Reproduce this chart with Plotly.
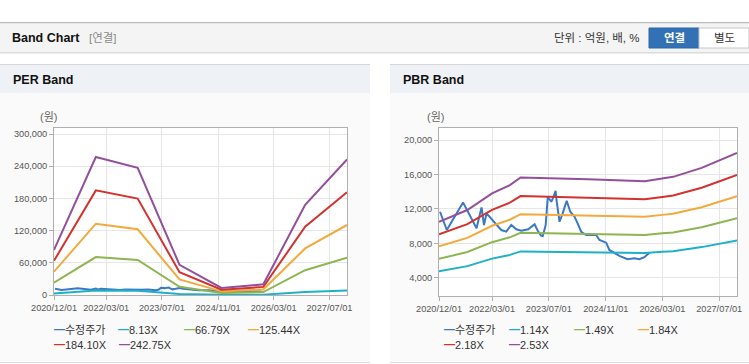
import plotly.graph_objects as go

W, H = 749, 364


def px(x):
    return x / W


def py(y):
    return 1 - y / H


# ---------------- data ----------------
x_tickvals = ["2020-12-01", "2022-03-01", "2023-07-01", "2024-11-01", "2026-03-01", "2027-07-01"]
x_ticktext = ["2020/12/01", "2022/03/01", "2023/07/01", "2024/11/01", "2026/03/01", "2027/07/01"]
x_range = ["2020-12-01", "2027-12-01"]

per_yticks = [0, 60000, 120000, 180000, 240000, 300000]
pbr_yticks = [4000, 8000, 12000, 16000, 20000]

# adjusted price (수정주가)
price_dates = [
    "2020-12-10", "2021-02-06", "2021-06-25", "2021-10-19", "2021-12-01", "2021-12-22",
    "2022-01-13", "2022-03-22", "2022-05-19", "2022-07-01", "2022-08-13", "2022-09-25",
    "2022-11-07", "2023-01-04", "2023-03-01", "2023-03-28", "2023-04-25", "2023-05-10",
    "2023-06-04", "2023-06-22", "2023-07-22", "2023-08-10", "2023-08-28", "2023-09-07",
    "2023-10-01", "2023-10-28", "2023-12-01", "2024-01-01", "2024-02-07", "2024-03-04",
    "2024-04-04", "2024-05-16", "2024-08-10", "2024-09-07", "2024-11-04", "2024-12-01",
    "2025-02-25", "2025-05-07", "2025-07-04", "2025-08-16", "2025-09-28", "2025-11-10",
]
price_vals = [
    11660, 9540, 12750, 9740, 12170, 10120,
    11480, 10500, 9540, 9350, 10120, 9620,
    9460, 9620, 10200, 9460, 8900, 8850,
    10120, 13400, 12820, 13400, 14100, 12820,
    10500, 11480, 12940, 11660, 11080, 10320,
    9340, 8960, 8960, 8380, 8070, 7220,
    6530, 6150, 6260, 6150, 6380, 6910,
]

# PER band
per_dates = ["2020-12-01", "2021-12-01", "2022-12-01", "2023-12-01",
             "2024-12-01", "2025-12-01", "2026-12-01", "2027-12-01"]
per_813 = [2813, 8610, 7935, 1878, 439, 667, 5626, 8455]
per_6679 = [23109, 70731, 65187, 15428, 3607, 5477, 46219, 69462]
per_12544 = [43402, 132841, 122429, 28977, 6774, 10286, 86804, 130458]
per_18410 = [63699, 194962, 179682, 42527, 9941, 15096, 127397, 191464]
per_24275 = [83992, 257072, 236924, 56075, 13109, 19906, 167983, 252460]

# PBR band
pbr_dates = ["2020-12-01", "2021-08-01", "2022-03-01", "2022-08-01", "2022-11-01",
             "2023-06-01", "2024-06-01", "2025-10-01", "2026-03-01", "2026-06-01",
             "2027-02-01", "2027-07-01", "2027-12-01"]
pbr_114 = [4733, 5344, 6216, 6651, 7053, 7006, 6962, 6858, 7001, 7083, 7554, 7957, 8338]
pbr_149 = [6186, 6985, 8125, 8693, 9219, 9158, 9099, 8964, 9150, 9257, 9873, 10400, 10898]
pbr_184 = [7640, 8626, 10034, 10735, 11384, 11309, 11237, 11069, 11299, 11432, 12192, 12843, 13458]
pbr_218 = [9051, 10220, 11888, 12718, 13488, 13398, 13313, 13115, 13387, 13544, 14445, 15216, 15945]
pbr_253 = [10505, 11861, 13796, 14760, 15653, 15549, 15451, 15220, 15537, 15719, 16764, 17659, 18504]

per_names = ["수정주가", "8.13X", "66.79X", "125.44X", "184.10X", "242.75X"]
pbr_names = ["수정주가", "1.14X", "1.49X", "1.84X", "2.18X", "2.53X"]
colors = ["#3b78c6", "#1eb0c6", "#8db551", "#f3a93b", "#d3322e", "#934f9b"]

FONT = "Liberation Sans, Arial, Noto Sans CJK KR, sans-serif"

# ---------------- figure ----------------
fig = go.Figure()

per_series = [(price_dates, price_vals), (per_dates, per_813), (per_dates, per_6679),
              (per_dates, per_12544), (per_dates, per_18410), (per_dates, per_24275)]
pbr_series = [(price_dates, price_vals), (pbr_dates, pbr_114), (pbr_dates, pbr_149),
              (pbr_dates, pbr_184), (pbr_dates, pbr_218), (pbr_dates, pbr_253)]

for (xs, ys), name, c in zip(per_series, per_names, colors):
    fig.add_trace(go.Scatter(x=xs, y=ys, name=name, mode="lines",
                             line=dict(color=c, width=2), xaxis="x", yaxis="y",
                             showlegend=False))
for (xs, ys), name, c in zip(pbr_series, pbr_names, colors):
    fig.add_trace(go.Scatter(x=xs, y=ys, name=name, mode="lines",
                             line=dict(color=c, width=2), xaxis="x2", yaxis="y2",
                             showlegend=False))

axis_common = dict(
    showline=True, mirror=True, linecolor="#b0b0b0", linewidth=1,
    showgrid=True, gridcolor="#e6e6e6", gridwidth=1,
    ticks="outside", ticklen=4, tickcolor="#b0b0b0",
    tickfont=dict(family=FONT, size=9.2, color="#555555"),
    zeroline=False, fixedrange=True, automargin=False,
)

fig.update_layout(
    width=W, height=H, autosize=False,
    margin=dict(l=0, r=0, t=0, b=0, pad=0, autoexpand=False),
    paper_bgcolor="#ffffff",
    plot_bgcolor="rgba(0,0,0,0)",
    showlegend=False,
    xaxis=dict(domain=[px(54), px(347)], range=x_range, type="date",
               tickvals=x_tickvals, ticktext=x_ticktext, anchor="y", **axis_common),
    yaxis=dict(domain=[py(295), py(128)], range=[0, 311180],
               tickvals=per_yticks, tickformat=",d", anchor="x", **axis_common),
    xaxis2=dict(domain=[px(439), px(737)], range=x_range, type="date",
                tickvals=x_tickvals, ticktext=x_ticktext, anchor="y2", **axis_common),
    yaxis2=dict(domain=[py(296), py(128)], range=[1872, 21395],
                tickvals=pbr_yticks, tickformat=",d", anchor="x2", **axis_common),
)

shapes = []


def rect(x0, y0, x1, y1, fill, line=None):
    shapes.append(dict(type="rect", xref="paper", yref="paper", layer="below",
                       x0=px(x0), x1=px(x1), y0=py(y1), y1=py(y0),
                       fillcolor=fill,
                       line=dict(width=1 if line else 0, color=line or fill)))


# header bar
rect(0, 22, 749, 23.5, "#b9b9b9")
rect(0, 23.5, 749, 52, "#f4f4f4")
rect(0, 52, 749, 53.5, "#dcdcdc")
# buttons
rect(649, 28, 699, 48, "#3271b6", "#2c66a6")
rect(699, 28, 749, 48, "#ffffff", "#c6c6c6")

# panels
for x0, x1 in [(0, 370), (390, 749)]:
    rect(x0, 64, x1, 65, "#d7d7d7")
    rect(x0, 65, x1, 93, "#eef1f6")
    rect(x0, 93, x1, 362, "#fafafa")
    rect(x0, 362, x1, 363, "#dedede")

# plot area backgrounds
rect(54, 128, 347, 295, "#ffffff")
rect(439, 128, 737, 296, "#ffffff")

fig.update_layout(shapes=shapes)

ann = []


def text(x, y, s, size=11, color="#333333", xanchor="left", bold=False, family=FONT):
    if bold:
        s = "<b>" + s + "</b>"
    ann.append(dict(xref="paper", yref="paper", x=px(x), y=py(y), text=s,
                    showarrow=False, xanchor=xanchor, yanchor="middle",
                    font=dict(family=family, size=size, color=color)))


text(10, 38, "Band Chart", size=12.5, color="#111111", bold=True)
text(87, 38, "[연결]", size=11.5, color="#8a8a8a")
text(642, 38, "단위 : 억원, 배, %", size=11.5, color="#333333", xanchor="right")
text(674, 38, "연결", size=11.5, color="#ffffff", xanchor="center", bold=True)
text(724, 38, "별도", size=11.5, color="#333333", xanchor="center")

text(11, 80, "PER Band", size=12.5, color="#111111", bold=True)
text(401, 80, "PBR Band", size=12.5, color="#111111", bold=True)

text(49, 117, "(원)", size=11, color="#666666", xanchor="center")
text(435, 117, "(원)", size=11, color="#666666", xanchor="center")

# custom legends (text)
per_legend_pos = [(52, 330), (116, 330), (182, 330), (246, 330), (52, 345), (117, 345)]
pbr_legend_pos = [(442, 330), (507, 330), (572, 330), (636, 330), (442, 345), (507, 345)]


def legend_item(x, y, name, c):
    s = ('<span style="color:%s;font-weight:bold">━</span>%s' % (c, name))
    text(x, y, s, size=11, color="#333333")


for (x, y), n, c in zip(per_legend_pos, per_names, colors):
    legend_item(x, y, n, c)
for (x, y), n, c in zip(pbr_legend_pos, pbr_names, colors):
    legend_item(x, y, n, c)

fig.update_layout(annotations=ann)

fig.write_html(
    "out.html",
    config={"displayModeBar": False, "responsive": False},
    post_script="document.body.style.margin='0';document.body.style.padding='0';"
                "document.body.style.overflow='hidden';",
)
